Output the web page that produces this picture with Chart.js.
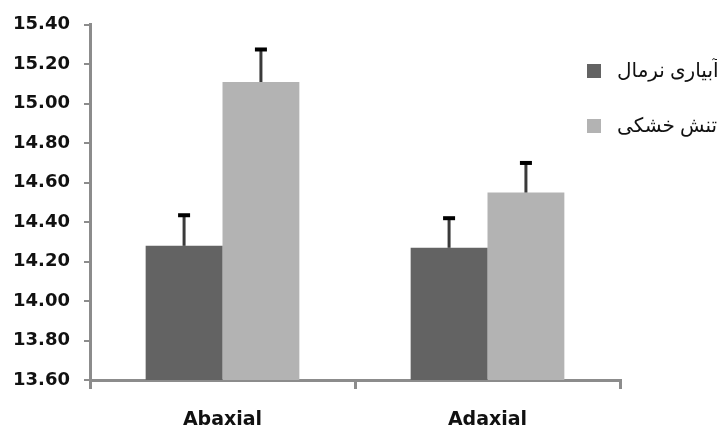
<!DOCTYPE html>
<html>
<head>
<meta charset="utf-8">
<script src="https://cdn.jsdelivr.net/npm/chart.js@4/dist/chart.umd.min.js"></script>
<style>
  html, body { margin: 0; padding: 0; background: #fff; overflow: hidden; }
  #wrap { position: relative; width: 717px; height: 440px; }
</style>
</head>
<body>
<div id="wrap"><canvas id="c" width="717" height="440"></canvas></div>
<script>
// ---- data ----
const categories = ["Abaxial", "Adaxial"];
const seriesNames = ["آبیاری نرمال", "تنش خشکی"];
const normalValues = [14.28, 14.27];
const droughtValues = [15.11, 14.55];
const normalErrors = [0.16, 0.155];
const droughtErrors = [0.17, 0.155];
const yTicks = [13.6, 13.8, 14.0, 14.2, 14.4, 14.6, 14.8, 15.0, 15.2, 15.4];
const colors = ["#636363", "#b3b3b3"];

const errorSets = [normalErrors, droughtErrors];

const errorBarPlugin = {
  id: 'errorBars',
  afterDatasetsDraw(chart) {
    const ctx = chart.ctx;
    const y = chart.scales.y;
    chart.data.datasets.forEach((ds, di) => {
      const meta = chart.getDatasetMeta(di);
      meta.data.forEach((bar, i) => {
        const v = ds.data[i];
        const top = y.getPixelForValue(v + errorSets[di][i]);
        const base = y.getPixelForValue(v);
        ctx.save();
        ctx.strokeStyle = '#3a3a3a';
        ctx.lineWidth = 3;
        ctx.beginPath();
        ctx.moveTo(bar.x, base);
        ctx.lineTo(bar.x, top);
        ctx.stroke();
        ctx.fillStyle = '#000';
        ctx.fillRect(bar.x - 6, top - 1, 12, 4);
        ctx.restore();
      });
    });
  }
};

const legendPlugin = {
  id: 'sideLegend',
  afterDraw(chart) {
    const ctx = chart.ctx;
    const rows = [71, 126];
    chart.data.datasets.forEach((ds, i) => {
      ctx.save();
      ctx.fillStyle = ds.backgroundColor;
      ctx.fillRect(587, rows[i] - 7, 14, 14);
      ctx.fillStyle = '#111';
      ctx.font = '20px "Liberation Serif", "DejaVu Sans", serif';
      ctx.textBaseline = 'middle';
      ctx.textAlign = 'left';
      ctx.fillText(ds.label, 617, rows[i] + 1);
      ctx.restore();
    });
  }
};

new Chart(document.getElementById('c'), {
  type: 'bar',
  data: {
    labels: categories,
    datasets: [
      { label: seriesNames[0], data: normalValues, backgroundColor: colors[0], borderWidth: 0 },
      { label: seriesNames[1], data: droughtValues, backgroundColor: colors[1], borderWidth: 0 }
    ]
  },
  options: {
    responsive: false,
    animation: false,
    devicePixelRatio: 1,
    layout: { padding: { left: 0, right: 97, top: 23, bottom: 0 } },
    plugins: { legend: { display: false }, tooltip: { enabled: false } },
    datasets: { bar: { categoryPercentage: 0.58, barPercentage: 1.0 } },
    scales: {
      x: {
        offset: true,
        grid: { display: true, drawOnChartArea: false, offset: true, tickLength: 9, color: '#8c8c8c', lineWidth: 3 },
        border: { display: true, color: '#8c8c8c', width: 3 },
        ticks: {
          color: '#111', padding: 20,
          font: { family: '"DejaVu Sans", sans-serif', size: 19, weight: 'bold' }
        },
        afterFit(scale) { scale.height = 60; }
      },
      y: {
        min: 13.6, max: 15.4,
        afterBuildTicks(scale) { scale.ticks = yTicks.map(v => ({ value: v })); },
        grid: { display: true, drawOnChartArea: false, tickLength: 6, color: '#8c8c8c', lineWidth: 2 },
        border: { display: true, color: '#8c8c8c', width: 3 },
        ticks: {
          color: '#111', padding: 14,
          font: { family: '"DejaVu Sans", sans-serif', size: 18, weight: 'bold' },
          callback: v => Number(v).toFixed(2)
        },
        afterFit(scale) { scale.width = 90; }
      }
    }
  },
  plugins: [errorBarPlugin, legendPlugin]
});
</script>
</body>
</html>
